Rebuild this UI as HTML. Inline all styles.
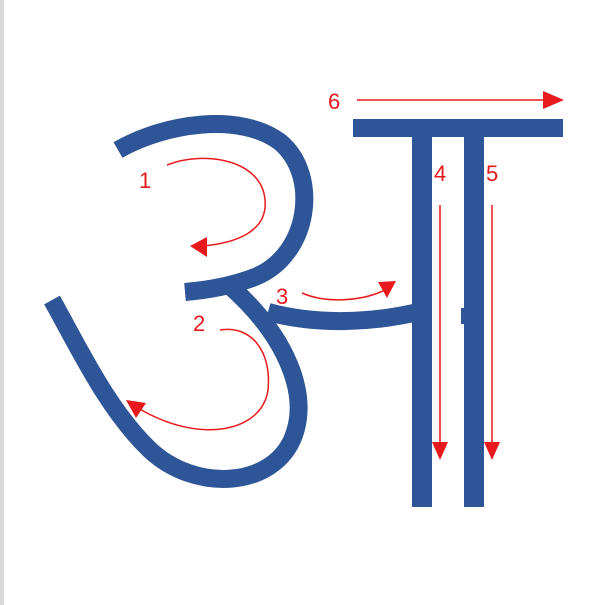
<!DOCTYPE html>
<html><head><meta charset="utf-8"><style>
html,body{margin:0;padding:0;background:#fff;width:603px;height:605px;overflow:hidden}
svg{display:block}
text{font-family:"Liberation Sans",sans-serif;font-size:22px;fill:#e8191c}
</style></head><body>
<svg width="603" height="605" viewBox="0 0 603 605">
<rect x="0" y="0" width="4" height="605" fill="#d9d9d9"/>
<g fill="none" stroke="#2e5597" stroke-width="18">
<path d="M118,150 C165,123 240,112 280,142 C320,175 310,255 255,277 C232,286 208,290 185,292"/>
<path d="M230,286 C285,335 312,395 292,440 C270,488 195,492 150,450 C108,410 80,350 52,300"/>
<path d="M268,312 C320,326 375,322 418,312"/>
</g>
<g fill="#2e5597">
<rect x="353" y="119" width="210" height="18"/>
<rect x="412" y="135" width="20" height="372"/>
<rect x="464" y="135" width="20" height="372"/>
<rect x="461" y="308" width="4" height="16"/>
</g>
<g stroke="#e8191c" stroke-width="1.5" fill="none">
<path d="M167,165 C205,150 262,160 265,200 C268,232 235,243 203,246"/>
<path d="M220,330 C250,325 272,350 268,390 C262,432 200,445 138,408"/>
<path d="M302,293 C325,303 360,302 385,290"/>
<path d="M440,205 L440,445"/>
<path d="M492,205 L492,445"/>
<path d="M357,100 L545,100"/>
</g>
<g fill="#e8191c">
<polygon points="190,246 207,237 207,257"/>
<polygon points="126,400 146,403 136,418"/>
<polygon points="396,281 378,282 387,298"/>
<polygon points="432,442 448,442 440,460"/>
<polygon points="484,442 500,442 492,460"/>
<polygon points="543,91 543,109 564,100"/>
</g>
<text x="139" y="188">1</text>
<text x="193" y="331">2</text>
<text x="276" y="304">3</text>
<text x="434" y="181">4</text>
<text x="486" y="181">5</text>
<text x="328" y="109">6</text>
</svg>
</body></html>
